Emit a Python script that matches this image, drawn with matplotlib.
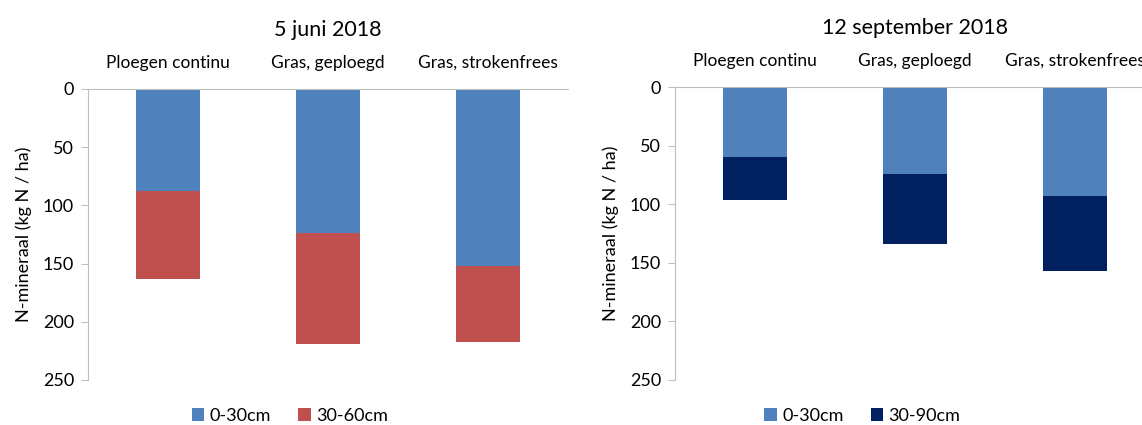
import numpy as np
import matplotlib.pyplot as plt

plt.rcParams['font.family'] = ['Lato', 'DejaVu Sans']

categories = ["Ploegen continu", "Gras, geploegd", "Gras, strokenfrees"]

juni_top = [88, 124, 152]        # 0-30cm
juni_sub = [75, 95, 65]          # 30-60cm

sept_top = [60, 74, 93]          # 0-30cm
sept_sub = [36, 60, 64]          # 30-90cm

blue = "#4F81BD"
red = "#C0504D"
navy = "#002060"
grey = "#BFBFBF"

fig = plt.figure(figsize=(11.42, 4.25), dpi=100)

ax1 = fig.add_axes([0.077, 0.106, 0.420, 0.685])
ax2 = fig.add_axes([0.591, 0.106, 0.420, 0.689])

def panel(ax, top, sub, sub_color, sub_label, title, leg_x):
    x = np.arange(len(categories))
    ax.bar(x, top, 0.4, color=blue, label="0-30cm")
    ax.bar(x, sub, 0.4, bottom=top, color=sub_color, label=sub_label)
    ax.set_xlim(-0.5, 2.5)
    ax.set_ylim(250, 0)
    ax.set_yticks([0, 50, 100, 150, 200, 250])
    ax.xaxis.tick_top()
    ax.set_xticks(x)
    ax.set_xticklabels(categories, fontsize=12.5)
    ax.tick_params(axis='x', length=0, pad=13)
    ax.tick_params(axis='y', labelsize=13, color=grey, length=5, pad=5)
    for s in ["right", "bottom"]:
        ax.spines[s].set_visible(False)
    for s in ["left", "top"]:
        ax.spines[s].set_color(grey)
    ax.set_ylabel("N-mineraal (kg N / ha)", fontsize=13, labelpad=8)
    ax.set_title(title, fontsize=15.5, pad=38)
    h, l = ax.get_legend_handles_labels()
    fig.legend(h, l, loc="center", bbox_to_anchor=(leg_x, 0.022), ncol=2,
               frameon=False, fontsize=13, handlelength=0.7, handleheight=0.7,
               handletextpad=0.3, columnspacing=1.5)

panel(ax1, juni_top, juni_sub, red, "30-60cm", "5 juni 2018", 0.254)
panel(ax2, sept_top, sept_sub, navy, "30-90cm", "12 september 2018", 0.755)

fig.savefig("out.png", dpi=100)
